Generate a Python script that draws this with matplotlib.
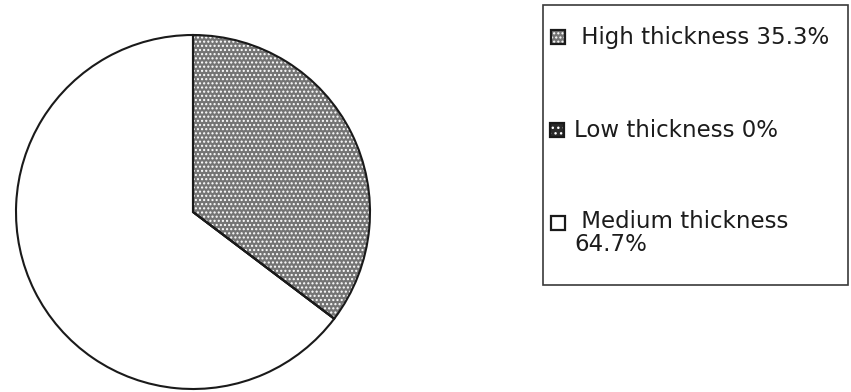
import matplotlib
matplotlib.use("Agg")
import matplotlib.pyplot as plt
from matplotlib.patches import Rectangle

# Share of samples by thickness class (%)
categories = ["High thickness", "Low thickness", "Medium thickness"]
shares = [35.3, 0.0, 64.7]
legend_labels = [" High thickness 35.3%", "Low thickness 0%", " Medium thickness\n64.7%"]

fills = ["#747474", "#2a2a2a", "#ffffff"]
patterns = ["....", "...", ""]
line_col = "#1a1a1a"

plt.rcParams["hatch.linewidth"] = 1.0

W, H = 851, 392
fig = plt.figure(figsize=(W / 100, H / 100), dpi=100)
fig.patch.set_facecolor("white")


def fx(x):
    return x / W


def fy(y):
    return 1 - y / H


# Pie axes: centre and radius in pixels
cx, cy, r = 193, 212, 177
lim = 1.02
half = r * lim
ax = fig.add_axes([fx(cx - half), fy(cy + half), 2 * half / W, 2 * half / H])

# fill layer with white stipple
wedges, _ = ax.pie(shares, colors=fills, startangle=90, counterclock=False,
                   wedgeprops=dict(linewidth=0, edgecolor="white"))
for w, p in zip(wedges, patterns):
    w.set_hatch(p)
# outline layer
ax.pie(shares, colors=["none"] * len(shares), startangle=90, counterclock=False,
       wedgeprops=dict(linewidth=1.5, edgecolor=line_col))
ax.set_xlim(-lim, lim)
ax.set_ylim(-lim, lim)
ax.set_aspect("equal")
ax.axis("off")

# Legend box
fig.add_artist(Rectangle((fx(543), fy(285)), fx(848) - fx(543), fy(5) - fy(285),
                         transform=fig.transFigure, facecolor="none",
                         edgecolor="#3a3a3a", linewidth=1.2))

marker_centres = [(558, 37), (557, 130), (558, 223)]
# baseline of the last line of each label
text_baselines = [44, 137, 251]
size = 14
for (mx, my), yb, lab, fc, pat in zip(marker_centres, text_baselines,
                                      legend_labels, fills, patterns):
    x0, y0 = mx - size / 2, my + size / 2
    fig.add_artist(Rectangle((fx(x0), fy(y0)), size / W, size / H,
                             transform=fig.transFigure, facecolor=fc,
                             hatch=pat, edgecolor="white", linewidth=0))
    fig.add_artist(Rectangle((fx(x0), fy(y0)), size / W, size / H,
                             transform=fig.transFigure, facecolor="none",
                             edgecolor=line_col, linewidth=1.6))
    fig.text(fx(574), fy(yb), lab, fontsize=16.5, family="DejaVu Sans",
             va="baseline", ha="left", color="#1c1c1c", linespacing=0.98)

fig.savefig("out.png", dpi=100)
